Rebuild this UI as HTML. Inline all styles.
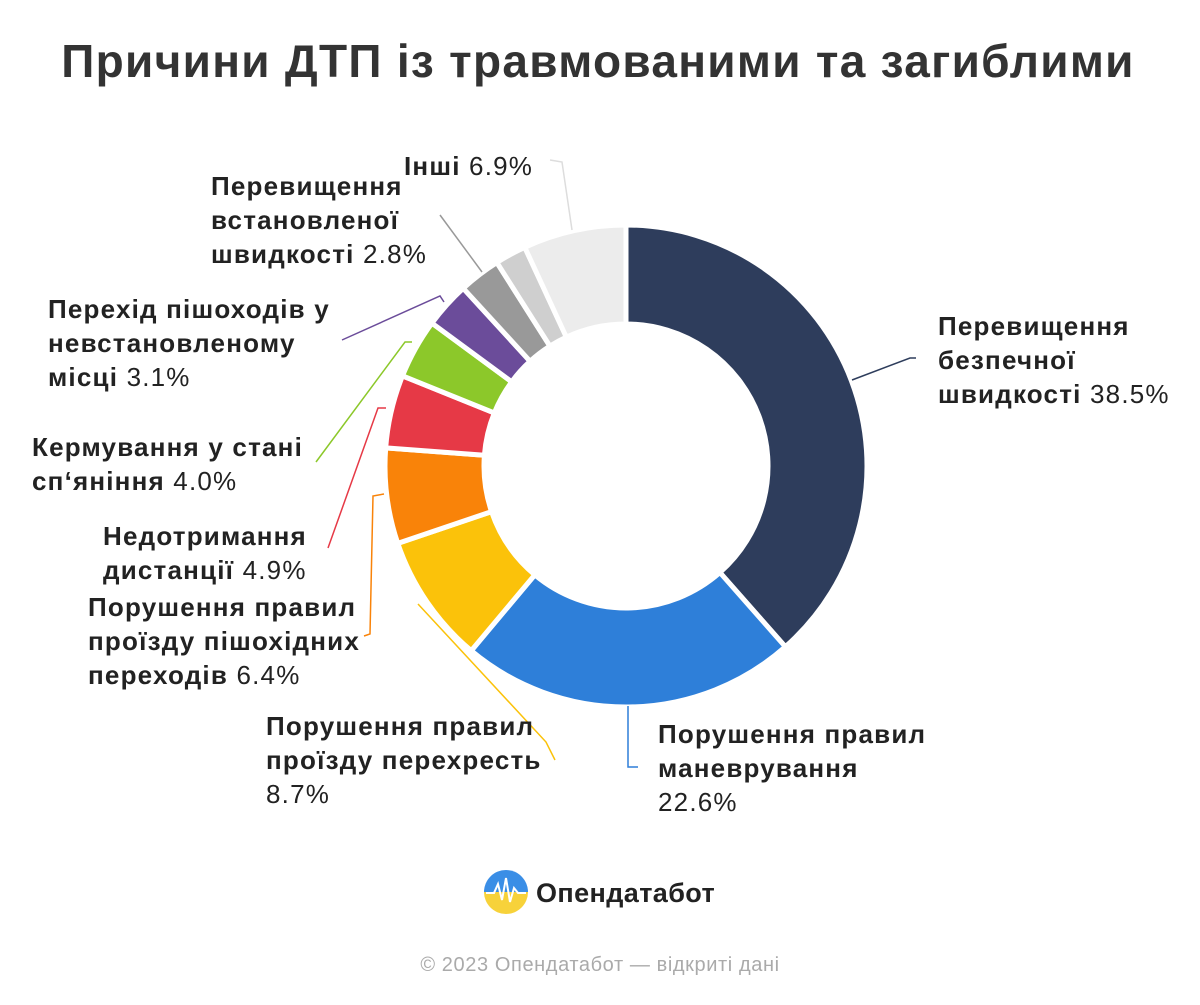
<!DOCTYPE html>
<html><head><meta charset="utf-8">
<style>
body{margin:0;width:1200px;height:1000px;background:#fff;overflow:hidden;font-family:"Liberation Sans","DejaVu Sans",sans-serif;}
svg text{font-family:"Liberation Sans","DejaVu Sans",sans-serif;}
</style></head>
<body>
<svg id="s" width="1200" height="1000" xmlns="http://www.w3.org/2000/svg">
<text x="598" y="77" text-anchor="middle" font-size="46" font-weight="bold" fill="#333" letter-spacing="1.3">Причини ДТП із травмованими та загиблими</text>
<g id="ring"></g>
<g fill="none" stroke-width="1.5">
<polyline points="852,380 910,358 916,358" stroke="#2e3d5c"/>
<polyline points="628,706 628,767 638,767" stroke="#2e7fd9"/>
<polyline points="418,604 546,742 555,760" stroke="#fbc20a"/>
<polyline points="384,494 373,496 370,634 364,636" stroke="#f98309"/>
<polyline points="386,408 378,408 328,548" stroke="#e63946"/>
<polyline points="412,342 405,342 316,462" stroke="#8cc82a"/>
<polyline points="444,302 440,296 342,340" stroke="#6b4c9a"/>
<polyline points="482,272 440,215" stroke="#999"/>
<polyline points="572,230 562,162 550,160" stroke="#ddd"/>
</g>
<g font-size="26" font-weight="bold" fill="#222" letter-spacing="1.2">
<text x="938" y="335">Перевищення</text>
<text x="938" y="369">безпечної</text>
<text x="938" y="403">швидкості <tspan font-weight="normal">38.5%</tspan></text>
<text x="658" y="743">Порушення правил</text>
<text x="658" y="777">маневрування</text>
<text x="658" y="811"><tspan font-weight="normal">22.6%</tspan></text>
<text x="266" y="735">Порушення правил</text>
<text x="266" y="769">проїзду перехресть</text>
<text x="266" y="803"><tspan font-weight="normal">8.7%</tspan></text>
<text x="88" y="616">Порушення правил</text>
<text x="88" y="650">проїзду пішохідних</text>
<text x="88" y="684">переходів <tspan font-weight="normal">6.4%</tspan></text>
<text x="103" y="545">Недотримання</text>
<text x="103" y="579">дистанції <tspan font-weight="normal">4.9%</tspan></text>
<text x="32" y="456">Кермування у стані</text>
<text x="32" y="490">сп‘яніння <tspan font-weight="normal">4.0%</tspan></text>
<text x="48" y="318">Перехід пішоходів у</text>
<text x="48" y="352">невстановленому</text>
<text x="48" y="386">місці <tspan font-weight="normal">3.1%</tspan></text>
<text x="211" y="195">Перевищення</text>
<text x="211" y="229">встановленої</text>
<text x="211" y="263">швидкості <tspan font-weight="normal">2.8%</tspan></text>
<text x="404" y="175">Інші <tspan font-weight="normal">6.9%</tspan></text>
</g>
<defs><linearGradient id="lg" x1="0" y1="0" x2="0" y2="1"><stop offset="0.5" stop-color="#3a8ee6"/><stop offset="0.5" stop-color="#f7d23a"/></linearGradient></defs>
<circle cx="506" cy="892" r="22" fill="url(#lg)"/>
<polyline points="486,893 494,893 498,884 502,900 506,878 510,902 514,888 518,893 526,893" fill="none" stroke="#fff" stroke-width="2"/>
<text x="536" y="902" font-size="27" font-weight="bold" fill="#222" letter-spacing="0.4">Опендатабот</text>
<text x="600" y="971" text-anchor="middle" font-size="20" fill="#aaa" letter-spacing="0.6">© 2023 Опендатабот — відкриті дані</text>
</svg>
<script>
var d=[[38.5,"#2e3d5c"],[22.6,"#2e7fd9"],[8.7,"#fbc20a"],[6.4,"#f98309"],[4.9,"#e63946"],[4.0,"#8cc82a"],[3.1,"#6b4c9a"],[2.8,"#999999"],[2.1,"#cfcfcf"],[6.9,"#ececec"]];
var cx=626,cy=466,R=241,r=142,a=0,h="";
function p(rad,ang){return [cx+rad*Math.sin(ang),cy-rad*Math.cos(ang)];}
d.forEach(function(s){var a0=a*2*Math.PI/100,a1=(a+s[0])*2*Math.PI/100;a+=s[0];
var L=(a1-a0)>Math.PI?1:0;var o0=p(R,a0),o1=p(R,a1),i1=p(r,a1),i0=p(r,a0);
h+='<path d="M'+o0+' A'+R+' '+R+' 0 '+L+' 1 '+o1+' L'+i1+' A'+r+' '+r+' 0 '+L+' 0 '+i0+' Z" fill="'+s[1]+'" stroke="#fff" stroke-width="5" stroke-linejoin="round"/>';});
document.getElementById("ring").innerHTML=h;
</script>
</body></html>
